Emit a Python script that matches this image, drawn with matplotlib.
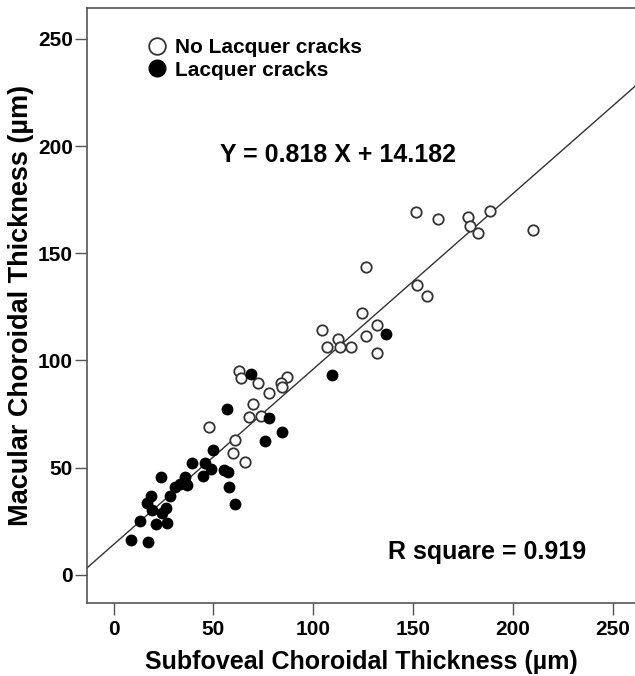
import matplotlib
matplotlib.use("Agg")
import matplotlib.pyplot as plt
import numpy as np

# No Lacquer cracks (open circles)
open_x = [62.8, 63.6, 72.5, 77.8, 86.7, 84.0, 84.5, 69.8, 67.8, 74.0, 47.7,
          60.6, 60.0, 66.0, 126.6, 152.0, 124.2, 104.5, 131.8, 112.6, 126.2,
          106.7, 113.4, 118.7, 131.8, 162.7, 177.5, 178.5, 188.4, 182.5,
          210.0, 156.8, 151.3]
open_y = [95.2, 91.7, 89.7, 85.0, 92.5, 89.4, 87.5, 79.7, 73.5, 74.0, 68.8,
          62.9, 56.7, 52.8, 143.4, 135.0, 122.0, 114.2, 116.5, 109.9, 111.6,
          106.1, 106.1, 106.1, 103.3, 165.8, 166.8, 162.7, 169.7, 159.3,
          160.8, 130.0, 169.1]

# Lacquer cracks (filled circles)
fill_x = [8.9, 17.2, 13.2, 21.0, 26.9, 18.5, 16.9, 19.4, 24.0, 26.4, 28.0,
          23.5, 30.6, 33.0, 36.0, 35.6, 36.6, 39.4, 44.7, 45.7, 49.0, 49.9,
          55.2, 57.4, 57.8, 61.0, 57.0, 69.0, 77.8, 84.5, 76.0, 109.6, 136.3]
fill_y = [16.3, 15.5, 25.2, 23.6, 24.4, 37.0, 33.4, 30.3, 28.8, 31.4, 37.0,
          45.8, 41.2, 42.3, 43.5, 45.8, 42.0, 52.4, 46.3, 52.0, 49.3, 58.3,
          49.0, 47.9, 41.2, 33.1, 77.2, 93.6, 73.0, 66.8, 62.6, 93.2, 112.2]

slope, intercept = 0.818, 14.182
r_square = 0.919
ticks = [0, 50, 100, 150, 200, 250]

plt.rcParams['font.family'] = ['Liberation Sans', 'DejaVu Sans']
plt.rcParams['font.weight'] = 'bold'

fig = plt.figure(figsize=(6.35, 6.76), dpi=100)
ax = fig.add_axes([0.1365, 0.108, 0.8645, 0.880])

xlim = (-13.5, 261.5)
ax.set_xlim(xlim)
ax.set_ylim(-13.1, 264.3)

xs = np.array(xlim)
ax.plot(xs, slope * xs + intercept, color='#333333', lw=1.0, zorder=1)

ax.plot(open_x, open_y, 'o', ms=7.5, mfc='white', mec='#333333', mew=1.3,
        ls='none', label='No Lacquer cracks', zorder=3)
ax.plot(fill_x, fill_y, 'o', ms=7.5, mfc='black', mec='black', mew=1.0,
        ls='none', label='Lacquer cracks', zorder=3)

ax.set_xticks(ticks)
ax.set_yticks(ticks)
ax.tick_params(direction='out', length=8.5, width=1, color='#555555', labelsize=15)
ax.tick_params(axis='x', pad=3.5)
ax.tick_params(axis='y', pad=1.5)
for lab in ax.get_xticklabels() + ax.get_yticklabels():
    lab.set_fontweight('bold')

ax.spines['right'].set_visible(False)
for s in ax.spines.values():
    s.set_color('#555555')
    s.set_linewidth(1.2)

ax.set_xlabel('Subfoveal Choroidal Thickness (µm)', fontsize=18, fontweight='bold', labelpad=8)
ax.set_ylabel('Macular Choroidal Thickness (µm)', fontsize=19.5, fontweight='bold', labelpad=3)

ax.legend(loc='upper left', bbox_to_anchor=(0.094, 0.963), frameon=False,
          handletextpad=0.35, labelspacing=0.15, borderaxespad=0,
          prop={'size': 15, 'weight': 'bold'}, handlelength=1.0, markerscale=1.6)

ax.text(0.457, 0.753, f'Y = {slope} X + {intercept}', transform=ax.transAxes,
        ha='center', va='center', fontsize=18, fontweight='bold')
ax.text(0.730, 0.0857, f'R square = {r_square}', transform=ax.transAxes,
        ha='center', va='center', fontsize=18, fontweight='bold')

fig.savefig('out.png', dpi=100)
